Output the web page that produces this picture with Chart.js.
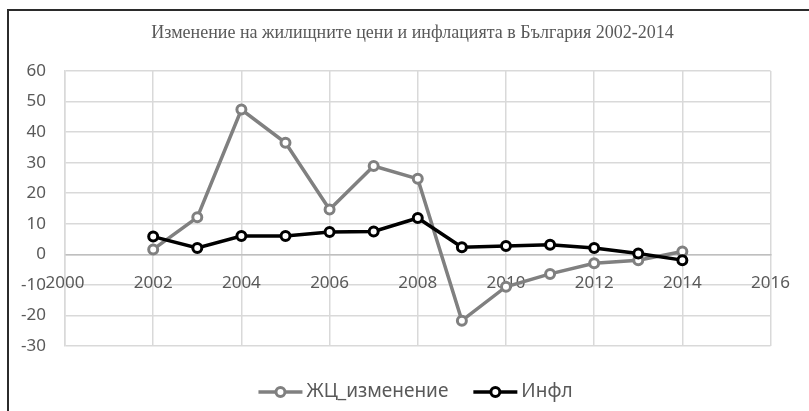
<!DOCTYPE html>
<html>
<head>
<meta charset="utf-8">
<script src="https://cdn.jsdelivr.net/npm/chart.js@4"></script>
<style>
  body { margin: 0; background: #fff; overflow: hidden; }
  #wrap { position: relative; width: 809px; height: 411px; }
  #frame { position: absolute; left: 7px; top: 9px; width: 900px; height: 500px;
           border-top: 2px solid #2b2b2b; border-left: 2px solid #2b2b2b; pointer-events: none; }
</style>
</head>
<body>
<div id="wrap">
  <canvas id="chart" width="809" height="411"></canvas>
  <div id="frame"></div>
</div>
<script>
// data
var years = [2002, 2003, 2004, 2005, 2006, 2007, 2008, 2009, 2010, 2011, 2012, 2013, 2014];
var housePrices = [1.6, 12.1, 47.4, 36.5, 14.7, 28.9, 24.7, -21.7, -10.6, -6.4, -2.9, -1.9, 0.9];
var inflation = [5.8, 2.1, 6.0, 6.0, 7.3, 7.5, 11.9, 2.3, 2.7, 3.1, 2.1, 0.3, -1.9];
var seriesNames = ["ЖЦ_изменение", "Инфл"];
var titleText = "Изменение на жилищните цени и инфлацията в България 2002-2014";

var textColor = "#595959";
var gridColor = "#d9d9d9";
var colors = ["#808080", "#000000"];
var labelFont = { family: "Noto Sans", size: 17 };
var legendFont = { family: "Noto Sans", size: 19 };

function toPoints(vals) {
  return years.map(function (y, i) { return { x: y, y: vals[i] }; });
}

var datasets = [housePrices, inflation].map(function (vals, i) {
  return {
    label: seriesNames[i],
    data: toPoints(vals),
    borderColor: colors[i],
    backgroundColor: "#ffffff",
    borderWidth: 3.5,
    pointRadius: 4.5,
    pointBorderWidth: 3,
    pointBackgroundColor: "#ffffff",
    pointBorderColor: colors[i],
    order: i === 0 ? 1 : 0   // inflation drawn on top
  };
});

// title is centred on the whole frame (not just the plot), so draw it here
// plus an excel style legend: short line with a hollow circle, then the name
var excelDecor = {
  id: "excelDecor",
  afterDraw: function (chart) {
    var ctx = chart.ctx;
    ctx.save();
    ctx.fillStyle = textColor;
    ctx.textAlign = "center";
    ctx.textBaseline = "middle";
    ctx.font = "18px 'Liberation Serif'";
    ctx.fillText(titleText, chart.width / 2 + 8, 33);

    var lineW = 44, gapText = 4, gapItem = 25;
    ctx.textAlign = "left";
    ctx.font = legendFont.size + "px " + legendFont.family;
    var widths = seriesNames.map(function (n) { return ctx.measureText(n).width; });
    var total = 0;
    widths.forEach(function (w, i) { total += lineW + gapText + w + (i ? gapItem : 0); });
    var x = chart.width / 2 + 11 - total / 2;
    var y = 392;
    seriesNames.forEach(function (name, i) {
      ctx.strokeStyle = colors[i];
      ctx.lineWidth = 3.5;
      ctx.beginPath(); ctx.moveTo(x, y); ctx.lineTo(x + lineW, y); ctx.stroke();
      ctx.fillStyle = "#fff";
      ctx.lineWidth = 3;
      ctx.beginPath(); ctx.arc(x + lineW / 2, y, 4.5, 0, Math.PI * 2); ctx.fill(); ctx.stroke();
      ctx.fillStyle = textColor;
      ctx.fillText(name, x + lineW + gapText, y);
      x += lineW + gapText + widths[i] + gapItem;
    });
    ctx.restore();
  }
};

new Chart(document.getElementById("chart"), {
  type: "line",
  data: { datasets: datasets },
  plugins: [excelDecor],
  options: {
    responsive: false,
    animation: false,
    layout: { padding: { left: 0, right: 34, top: 71, bottom: 65 } },
    plugins: {
      title: { display: false },
      legend: { display: false },
      tooltip: { enabled: false }
    },
    scales: {
      x: {
        type: "linear",
        position: { y: 0 },
        min: 2000,
        max: 2016,
        ticks: {
          stepSize: 2,
          color: textColor,
          font: labelFont,
          padding: 19,
          callback: function (v) { return String(v); }
        },
        grid: { color: gridColor, lineWidth: 1.5, drawTicks: false },
        border: { color: "#bfbfbf", width: 1.5 },
        afterFit: function (s) { s.height = 0; }
      },
      y: {
        min: -30,
        max: 60,
        ticks: {
          stepSize: 10,
          color: textColor,
          font: labelFont,
          padding: 19
        },
        grid: { color: gridColor, lineWidth: 1.5, drawTicks: false },
        border: { color: gridColor, width: 1.5 },
        afterFit: function (s) { s.width = 65; }
      }
    }
  }
});
</script>
</body>
</html>
